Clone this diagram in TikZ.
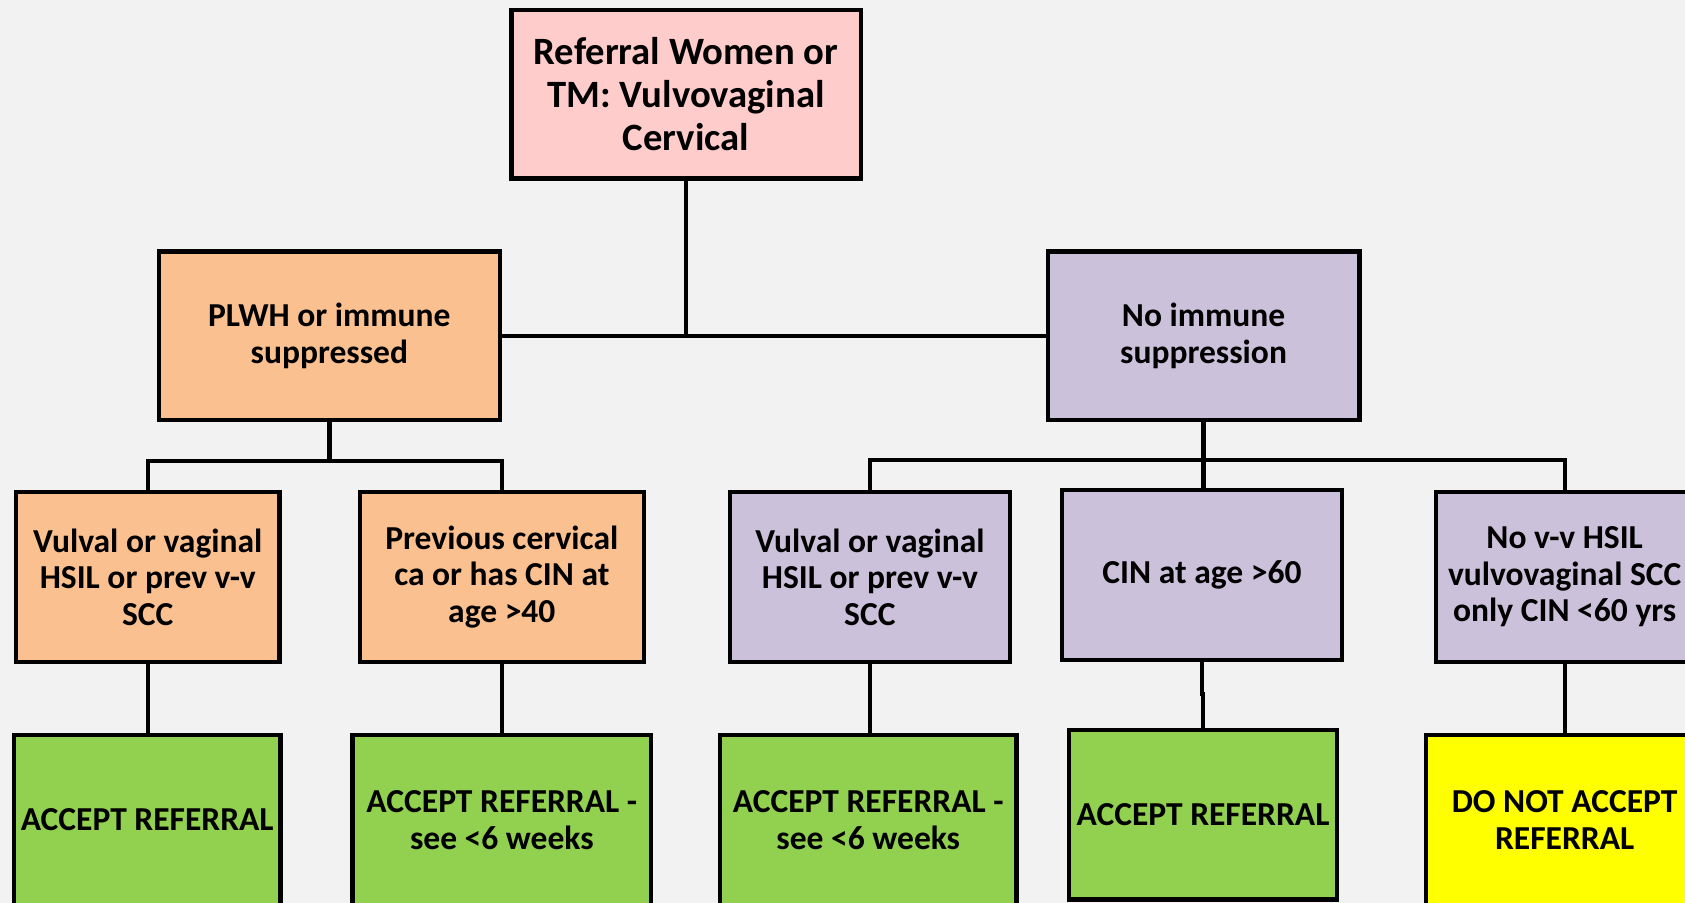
\documentclass[tikz,border=0pt]{standalone}
\usepackage{fontspec}
\setmainfont{Carlito}
\definecolor{bgc}{HTML}{F2F2F2}
\definecolor{pinkc}{HTML}{FFCCCC}
\definecolor{orangec}{HTML}{FAC090}
\definecolor{lavc}{HTML}{CCC1DA}
\definecolor{greenc}{HTML}{92D050}
\definecolor{yellowc}{HTML}{FFFF00}
\begin{document}
\begin{tikzpicture}[x=0.5pt,y=-0.5pt,
  box/.style={draw=black, line width=2pt, inner sep=0pt, align=center,
    minimum height=79pt, font=\bfseries\fontsize{15.6}{17}\selectfont},
  wire/.style={line width=2pt}]
\fill[bgc] (0,0) rectangle (1568,840);
\clip (0,0) rectangle (1568,840);
% boxes
\node[box, fill=pinkc, minimum width=162.5pt, minimum height=78.5pt,
  font=\bfseries\fontsize{18}{20}\selectfont] (top) at (638.5,87.5)
  {Referral Women or\\TM: Vulvovaginal\\Cervical};
\node[box, fill=orangec, minimum width=158.5pt, minimum height=78.5pt] (plwh) at (306.5,312.5)
  {PLWH or immune\\suppressed};
\node[box, fill=lavc, minimum width=145pt, minimum height=78.5pt] (noimm) at (1120,312.5)
  {No immune\\suppression};
\node[box, fill=orangec, minimum width=122.5pt] (l1) at (137.5,537)
  {Vulval or vaginal\\HSIL or prev v-v\\SCC};
\node[box, fill=orangec, minimum width=132pt] (l2) at (467,537)
  {Previous cervical\\ca or has CIN at\\age >40};
\node[box, fill=lavc, minimum width=130.5pt] (r1) at (809.5,537)
  {Vulval or vaginal\\HSIL or prev v-v\\SCC};
\node[box, fill=lavc, minimum width=130.5pt] (r2) at (1118.5,535)
  {CIN at age >60};
\node[box, fill=lavc, minimum width=120pt] (r3) at (1456,537)
  {No v-v HSIL\\vulvovaginal SCC\\only CIN <60 yrs};
\node[box, fill=greenc, minimum width=124pt] (g1) at (137,763)
  {ACCEPT REFERRAL};
\node[box, fill=greenc, minimum width=139pt] (g2) at (467,763)
  {ACCEPT REFERRAL -\\see <6 weeks};
\node[box, fill=greenc, minimum width=138pt] (g3) at (808,763)
  {ACCEPT REFERRAL -\\see <6 weeks};
\node[box, fill=greenc, minimum width=124.5pt] (g4) at (1119.5,758)
  {ACCEPT REFERRAL};
\node[box, fill=yellowc, minimum width=129pt] (y5) at (1456,763)
  {DO NOT ACCEPT\\REFERRAL};
% connectors
\draw[wire] (top.south) -- (top.south |- plwh.east);
\draw[wire] (plwh.east) -- (noimm.west);
\draw[wire] (plwh.south) -- ++(0,36) coordinate (jl);
\draw[wire] (l1.north) |- (jl) -| (l2.north);
\draw[wire] (noimm.south) -- ++(0,35) coordinate (jr);
\draw[wire] (r1.north) |- (jr) -| (r3.north);
\draw[wire] (jr) -- (jr |- r2.north);
\draw[wire] (l1.south) -- (l1.south |- g1.north);
\draw[wire] (l2.south) -- (l2.south |- g2.north);
\draw[wire] (r1.south) -- (r1.south |- g3.north);
\draw[wire] (r2.south) -- ++(0,30) -| (g4.north);
\draw[wire] (r3.south) -- (r3.south |- y5.north);
\end{tikzpicture}
\end{document}
